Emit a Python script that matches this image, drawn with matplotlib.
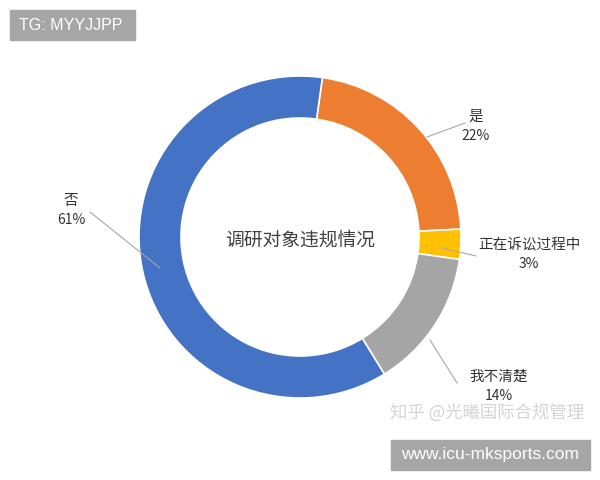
import matplotlib.pyplot as plt
from matplotlib.patches import Rectangle

plt.rcParams['font.family'] = ['Noto Sans CJK SC', 'DejaVu Sans']

labels = ['是', '正在诉讼过程中', '我不清楚', '否']
values = [22, 3, 14, 61]
colors = ['#ED7D31', '#FFC000', '#A5A5A5', '#4472C4']
title = '调研对象违规情况'

# label text positions and leader lines (pixel coords, y up)
label_pos = [(476, 354), (529, 226), (499, 94), (71, 270)]
leaders = [((465, 357), (427, 343)),
           ((476, 224), (442, 232)),
           ((457, 97), (430, 140)),
           ((90, 268), (160, 212))]

fig = plt.figure(figsize=(6, 4.8), dpi=100)
ax = fig.add_axes([0, 0, 1, 1])

ax.pie(values, colors=colors, startangle=82, counterclock=False,
       center=(300, 243), radius=161,
       wedgeprops=dict(width=42, edgecolor='white', linewidth=1.2))
ax.set_xlim(0, 600)
ax.set_ylim(0, 480)
ax.set_aspect('equal')
ax.axis('off')

ax.text(300, 240, title, ha='center', va='center', fontsize=13.5,
        color='#404040', fontweight='medium')

for lab, v, (x, y), (p0, p1) in zip(labels, values, label_pos, leaders):
    ax.plot([p0[0], p1[0]], [p0[1], p1[1]], color='#a8a8a8', lw=0.8)
    ax.text(x, y + 9, lab, ha='center', va='center', fontsize=10.5,
            color='#333333', fontweight='medium')
    ax.text(x, y - 10, f'{v}%', ha='center', va='center', fontsize=10,
            color='#333333', fontweight='medium')

ax.text(487, 67, '知乎 @光曦国际合规管理', ha='center', va='center',
        fontsize=12.5, color='#d4d4d4')

ax.add_patch(Rectangle((10, 440), 125, 30, color='#a6a6a6'))
ax.text(19, 455, 'TG: MYYJJPP', ha='left', va='center', fontsize=11.5,
        color='white', family='Liberation Sans')
ax.add_patch(Rectangle((391, 10), 199, 30, color='#a6a6a6'))
ax.text(490, 25, 'www.icu-mksports.com', ha='center', va='center',
        fontsize=12.5, color='white', family='Liberation Sans')

fig.savefig('out.png', dpi=100, facecolor='white')
